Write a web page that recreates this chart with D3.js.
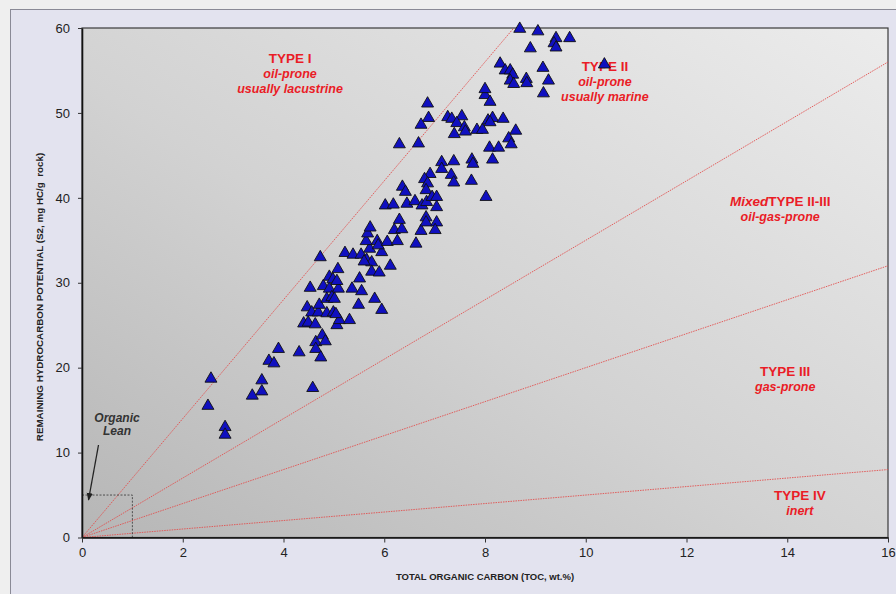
<!DOCTYPE html>
<html>
<head>
<meta charset="utf-8">
<script src="https://cdn.jsdelivr.net/npm/d3@7"></script>
<style>
  body { margin: 0; background: #efefef; }
  svg { display: block; font-family: Arial, "Liberation Sans", sans-serif; }
</style>
</head>
<body>
<div id="chart"></div>
<script>
// TOC (wt.%) of each sample
var toc = [
    2.56, 2.50, 2.84, 2.84, 3.90, 3.71, 3.81, 3.57, 3.57, 3.38, 4.31, 4.58, 4.64, 4.64, 4.74, 4.77, 4.83,
    4.40, 4.49, 4.63, 5.06, 5.11, 5.31, 4.47, 4.56, 4.69, 4.71, 4.86, 4.99, 5.04, 5.49, 5.95, 5.81,
    4.53, 4.79, 4.91, 5.09, 4.86, 4.96, 5.01, 5.36, 5.55, 4.91, 4.98, 5.08, 5.06, 5.51, 4.73, 5.22,
    5.38, 5.54, 5.65, 5.75, 5.60, 5.75, 5.90, 6.12, 5.71, 5.95, 5.64, 5.86, 5.88, 6.06, 6.26, 6.63,
    5.67, 5.72, 6.20, 6.35, 6.73, 6.30, 6.02, 6.18, 6.45, 6.61, 6.75, 6.84,
    6.86, 6.88, 6.73, 6.30, 6.68, 7.26, 7.34, 7.54, 7.44, 7.59, 7.61, 7.39, 7.84, 7.95, 8.06, 8.15,
    8.10, 8.36, 8.00, 8.10, 8.61, 8.47, 8.52, 8.09, 8.27, 8.15, 8.02, 7.14, 7.14, 7.38, 7.74, 7.76,
    7.33, 7.38, 7.73, 6.91, 6.80, 6.86, 6.36, 6.42, 6.83, 6.95, 7.04, 7.04, 6.83, 6.83, 7.04, 7.01,
    8.69, 9.05, 9.41, 9.68, 9.37, 9.41, 8.90, 8.30, 8.40, 8.50, 8.55, 8.50, 8.57, 8.82, 8.83, 9.15,
    9.26, 9.16, 8.00, 10.37
];
// S2 (mg HC/g rock) of each sample
var s2 = [
    18.7, 15.5, 13.0, 12.1, 22.2, 20.8, 20.5, 18.5, 17.2, 16.7, 21.8, 17.6, 23.0, 22.2, 21.2, 23.8, 23.1,
    25.2, 25.3, 25.1, 25.0, 25.6, 25.6, 27.1, 26.5, 26.5, 27.4, 26.4, 26.5, 26.3, 27.4, 26.8, 28.1,
    29.4, 29.6, 29.3, 29.3, 28.1, 28.3, 28.1, 29.3, 29.0, 30.7, 30.4, 31.6, 30.2, 30.5, 33.0, 33.5,
    33.3, 33.3, 32.7, 32.4, 32.5, 31.3, 31.2, 32.0, 34.0, 33.6, 34.9, 34.9, 34.4, 34.8, 34.9, 34.6,
    35.8, 36.5, 36.2, 36.3, 36.1, 37.4, 39.1, 39.2, 39.3, 39.6, 39.1, 39.5,
    51.1, 49.4, 48.6, 46.3, 46.4, 49.5, 49.3, 49.6, 48.8, 48.3, 47.8, 47.5, 48.0, 48.0, 49.1, 49.4,
    48.9, 49.3, 52.1, 51.3, 47.9, 47.0, 46.3, 45.9, 45.9, 44.5, 40.1, 44.2, 43.4, 44.3, 44.5, 44.0,
    42.7, 41.8, 42.0, 42.8, 42.2, 41.7, 41.3, 40.7, 40.9, 40.1, 40.1, 38.9, 37.7, 37.1, 37.1, 36.2,
    59.9, 59.6, 58.8, 58.8, 58.2, 57.7, 57.6, 55.8, 55.0, 55.0, 54.5, 53.8, 53.4, 54.0, 53.5, 55.3,
    53.8, 52.3, 52.8, 55.7
];

// kerogen type boundaries: S2 = slope * TOC  (HI 700, 350, 200, 50)
var boundarySlopes = [7, 3.5, 2, 0.5];

var xTicks = [0, 2, 4, 6, 8, 10, 12, 14, 16];
var yTicks = [0, 10, 20, 30, 40, 50, 60];

// zone labels: [toc, s2 of first baseline, line1, line2, line3]
var zoneLabels = [
    [4.13, 55.9, "TYPE I", "oil-prone", "usually lacustrine"],
    [10.38, 54.9, "TYPE II", "oil-prone", "usually marine"],
    [13.86, 39.0, "TYPE II-III", "oil-gas-prone", null],
    [13.96, 19.0, "TYPE III", "gas-prone", null],
    [14.25, 4.4, "TYPE IV", "inert", null]
];

var W = 896, H = 594;
var svg = d3.select("#chart").append("svg")
    .attr("width", W)
    .attr("height", H);

var x = d3.scaleLinear().domain([0, 16]).range([82, 888]);
var y = d3.scaleLinear().domain([0, 60]).range([537.5, 28]);

// outer panel
svg.append("rect")
    .attr("x", 10.5).attr("y", 9.5)
    .attr("width", W).attr("height", H)
    .attr("fill", "#e3e3ef")
    .attr("stroke", "#8a8a96")
    .attr("stroke-width", 1);

var defs = svg.append("defs");
var grad = defs.append("linearGradient")
    .attr("id", "plotbg")
    .attr("x1", "0").attr("y1", "1")
    .attr("x2", "1").attr("y2", "0");
grad.append("stop").attr("offset", "0%").attr("stop-color", "#b6b6b6");
grad.append("stop").attr("offset", "45%").attr("stop-color", "#d2d2d2");
grad.append("stop").attr("offset", "100%").attr("stop-color", "#ececec");

defs.append("clipPath").attr("id", "clip")
    .append("rect")
    .attr("x", x(0)).attr("y", y(60))
    .attr("width", x(16) - x(0)).attr("height", y(0) - y(60));

svg.append("rect")
    .attr("x", x(0)).attr("y", y(60))
    .attr("width", x(16) - x(0)).attr("height", y(0) - y(60))
    .attr("fill", "url(#plotbg)")
    .attr("stroke", "#3a3a3a")
    .attr("stroke-width", 1.2);

var plot = svg.append("g").attr("clip-path", "url(#clip)");

// boundary lines
plot.selectAll("line.boundary")
    .data(boundarySlopes)
    .enter().append("line")
    .attr("class", "boundary")
    .attr("x1", x(0)).attr("y1", y(0))
    .attr("x2", function(d) { return x(Math.min(16, 60 / d)); })
    .attr("y2", function(d) { return y(Math.min(60, 16 * d)); })
    .attr("stroke", "#e2504f")
    .attr("stroke-width", 0.9)
    .attr("stroke-dasharray", "1.5,1");

// organic lean box
plot.append("rect")
    .attr("x", x(0)).attr("y", y(5))
    .attr("width", x(1) - x(0)).attr("height", y(0) - y(5))
    .attr("fill", "none")
    .attr("stroke", "#333")
    .attr("stroke-width", 0.8)
    .attr("stroke-dasharray", "2,1.5");

// axes
var yAxis = svg.append("g")
    .attr("transform", "translate(" + x(0) + ",0)")
    .call(d3.axisLeft(y).tickValues(yTicks).tickSize(4).tickSizeOuter(0).tickPadding(8));
var xAxis = svg.append("g")
    .attr("transform", "translate(0," + y(0) + ")")
    .call(d3.axisBottom(x).tickValues(xTicks).tickSize(5).tickSizeOuter(0).tickPadding(5));

[xAxis, yAxis].forEach(function(a) {
    a.select(".domain").attr("stroke", "#111").attr("stroke-width", 1.6);
    a.selectAll(".tick line").attr("stroke", "#333");
    a.selectAll(".tick text")
        .attr("fill", "#222")
        .style("font-size", "13px")
        .style("font-family", "Arial, 'Liberation Sans', sans-serif");
});

// axis titles
svg.append("text")
    .attr("x", 485).attr("y", 580)
    .attr("text-anchor", "middle")
    .attr("fill", "#222")
    .style("font-size", "9.5px")
    .style("font-weight", "bold")
    .text("TOTAL ORGANIC CARBON (TOC, wt.%)");

svg.append("text")
    .attr("transform", "translate(43,297) rotate(-90)")
    .attr("text-anchor", "middle")
    .attr("fill", "#222")
    .style("font-size", "9.8px")
    .style("font-weight", "bold")
    .style("white-space", "pre")
    .text("REMAINING HYDROCARBON POTENTIAL (S2, mg HC/g  rock)");

// zone labels
var red = "#ea1c26";
var zl = svg.append("g").attr("fill", red).attr("text-anchor", "middle");
zoneLabels.forEach(function(d, i) {
    var t = zl.append("text")
        .attr("x", x(d[0])).attr("y", y(d[1]))
        .style("font-size", "13.5px")
        .style("font-weight", "bold");
    if (i === 2) {
        t.append("tspan").style("font-style", "italic").text("Mixed");
        t.append("tspan").text(d[2]);
    } else {
        t.text(d[2]);
    }
    [d[3], d[4]].forEach(function(s, k) {
        if (!s) return;
        zl.append("text")
            .attr("x", x(d[0])).attr("y", y(d[1]) + 15 * (k + 1))
            .style("font-size", "12.5px")
            .style("font-weight", "bold")
            .style("font-style", "italic")
            .text(s);
    });
});

// samples (drawn over the labels)
var pts = toc.map(function(t, i) { return [t, s2[i]]; });
var tri = d3.symbol().type(d3.symbolTriangle).size(62);
svg.append("g").selectAll("path")
    .data(pts)
    .enter().append("path")
    .attr("d", tri)
    .attr("transform", function(d) { return "translate(" + x(d[0]) + "," + y(d[1]) + ")"; })
    .attr("fill", "#1010c0")
    .attr("stroke", "#111")
    .attr("stroke-width", 0.9);

// organic lean note + arrow
defs.append("marker")
    .attr("id", "arrow")
    .attr("viewBox", "0 -5 10 10")
    .attr("refX", 9).attr("refY", 0)
    .attr("markerWidth", 6).attr("markerHeight", 6)
    .attr("orient", "auto")
    .append("path")
    .attr("d", "M0,-4L10,0L0,4Z")
    .attr("fill", "#222");

svg.append("text")
    .attr("x", 117).attr("y", 422)
    .attr("text-anchor", "middle")
    .attr("fill", "#333")
    .style("font-size", "12px")
    .style("font-weight", "bold")
    .style("font-style", "italic")
    .text("Organic");
svg.append("text")
    .attr("x", 117).attr("y", 435)
    .attr("text-anchor", "middle")
    .attr("fill", "#333")
    .style("font-size", "12px")
    .style("font-weight", "bold")
    .style("font-style", "italic")
    .text("Lean");

svg.append("line")
    .attr("x1", 98.5).attr("y1", 445)
    .attr("x2", 88.5).attr("y2", 500)
    .attr("stroke", "#222")
    .attr("stroke-width", 1.3)
    .attr("marker-end", "url(#arrow)");
</script>
</body>
</html>
